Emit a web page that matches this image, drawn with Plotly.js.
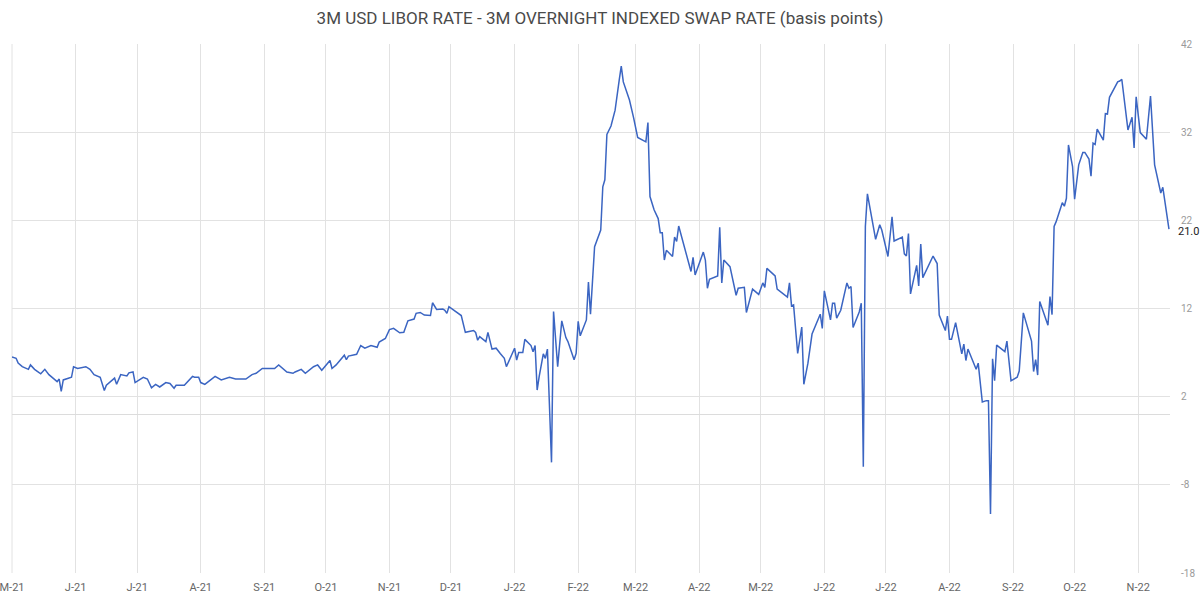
<!DOCTYPE html>
<html>
<head>
<meta charset="utf-8">
<script src="https://cdn.plot.ly/plotly-3.0.1.min.js"></script>
<style>
  html, body { margin: 0; padding: 0; background: #ffffff; }
  #chart { width: 1200px; height: 601px; }
</style>
</head>
<body>
<div id="chart"></div>
<script>
// Observation dates (one line per month)
const dates = [
  '2021-05-01','2021-05-03','2021-05-04','2021-05-06','2021-05-09','2021-05-10','2021-05-12','2021-05-15','2021-05-17','2021-05-19','2021-05-21','2021-05-23','2021-05-24','2021-05-25','2021-05-26','2021-05-30','2021-05-31',
  '2021-06-02','2021-06-06','2021-06-08','2021-06-10','2021-06-13','2021-06-15','2021-06-16','2021-06-19','2021-06-20','2021-06-21','2021-06-23','2021-06-26','2021-06-27','2021-06-29','2021-06-30',
  '2021-07-04','2021-07-06','2021-07-08','2021-07-10','2021-07-12','2021-07-15','2021-07-17','2021-07-19','2021-07-20','2021-07-24','2021-07-28','2021-07-29','2021-07-31',
  '2021-08-01','2021-08-03','2021-08-05','2021-08-08','2021-08-11','2021-08-15','2021-08-18','2021-08-23','2021-08-26','2021-08-28','2021-08-31',
  '2021-09-06','2021-09-08','2021-09-12','2021-09-15','2021-09-16','2021-09-19','2021-09-21','2021-09-25','2021-09-27','2021-09-29',
  '2021-10-01','2021-10-03','2021-10-04','2021-10-06','2021-10-10','2021-10-11','2021-10-12','2021-10-16','2021-10-18','2021-10-20','2021-10-23','2021-10-26','2021-10-27','2021-10-30',
  '2021-11-01','2021-11-03','2021-11-06','2021-11-08','2021-11-10','2021-11-13','2021-11-14','2021-11-16','2021-11-18','2021-11-21','2021-11-22','2021-11-24','2021-11-27','2021-11-28','2021-11-29','2021-11-30',
  '2021-12-06','2021-12-08','2021-12-12','2021-12-13','2021-12-14','2021-12-15','2021-12-18','2021-12-19','2021-12-21','2021-12-23','2021-12-25','2021-12-27','2021-12-28',
  '2022-01-01','2022-01-02','2022-01-03','2022-01-05','2022-01-06','2022-01-09','2022-01-10','2022-01-11','2022-01-12','2022-01-13','2022-01-15','2022-01-16','2022-01-17','2022-01-19','2022-01-20','2022-01-22','2022-01-24','2022-01-26','2022-01-27','2022-01-30','2022-01-31',
  '2022-02-01','2022-02-02','2022-02-05','2022-02-06','2022-02-07','2022-02-09','2022-02-12','2022-02-13','2022-02-14','2022-02-15','2022-02-17','2022-02-19','2022-02-21','2022-02-22','2022-02-23','2022-02-26','2022-02-28',
  '2022-03-02','2022-03-06','2022-03-07','2022-03-08','2022-03-10','2022-03-12','2022-03-13','2022-03-14','2022-03-15','2022-03-16','2022-03-19','2022-03-20','2022-03-21','2022-03-22','2022-03-25','2022-03-28','2022-03-29','2022-03-30',
  '2022-04-03','2022-04-04','2022-04-05','2022-04-06','2022-04-10','2022-04-11','2022-04-12','2022-04-13','2022-04-16','2022-04-19','2022-04-20','2022-04-23','2022-04-24','2022-04-27','2022-04-30',
  '2022-05-02','2022-05-03','2022-05-04','2022-05-08','2022-05-09','2022-05-14','2022-05-15','2022-05-16','2022-05-17','2022-05-19','2022-05-21','2022-05-22','2022-05-24','2022-05-26','2022-05-30','2022-05-31',
  '2022-06-01','2022-06-04','2022-06-05','2022-06-06','2022-06-07','2022-06-09','2022-06-12','2022-06-13','2022-06-14','2022-06-15','2022-06-18','2022-06-19','2022-06-20','2022-06-21','2022-06-22','2022-06-26','2022-06-28','2022-06-29',
  '2022-07-02','2022-07-04','2022-07-05','2022-07-09','2022-07-10','2022-07-11','2022-07-12','2022-07-13','2022-07-16','2022-07-17','2022-07-18','2022-07-19','2022-07-24','2022-07-26','2022-07-27','2022-07-30','2022-07-31',
  '2022-08-01','2022-08-02','2022-08-04','2022-08-07','2022-08-08','2022-08-09','2022-08-10','2022-08-13','2022-08-14','2022-08-15','2022-08-17','2022-08-19','2022-08-20','2022-08-21','2022-08-22','2022-08-23','2022-08-24','2022-08-28','2022-08-29','2022-08-31',
  '2022-09-03','2022-09-04','2022-09-06','2022-09-10','2022-09-11','2022-09-12','2022-09-13','2022-09-14','2022-09-18','2022-09-19','2022-09-20','2022-09-21','2022-09-22','2022-09-25','2022-09-26','2022-09-27','2022-09-28','2022-09-30',
  '2022-10-01','2022-10-03','2022-10-05','2022-10-06','2022-10-08','2022-10-09','2022-10-10','2022-10-11','2022-10-12','2022-10-15','2022-10-16','2022-10-17','2022-10-18','2022-10-22','2022-10-23','2022-10-24','2022-10-27','2022-10-29','2022-10-30','2022-10-31',
  '2022-11-02','2022-11-05','2022-11-07','2022-11-09','2022-11-12','2022-11-13','2022-11-16'
];

// 3M USD LIBOR minus 3M OIS, basis points (same order as dates)
const spreadBp = [
  6.5, 6.35, 5.8, 5.4, 5.1, 5.6, 5.1, 4.6, 5.1, 4.5, 4.1, 3.7, 4.0, 2.6, 3.9, 4.2, 5.4,
  5.2, 5.4, 5.1, 4.5, 4.2, 2.7, 3.3, 3.9, 4.1, 3.4, 4.5, 4.35, 4.7, 4.8, 3.6,
  4.2, 4.0, 3.0, 3.4, 3.1, 3.6, 3.5, 2.95, 3.3, 3.3, 4.3, 4.2, 4.2,
  3.6, 3.4, 3.8, 4.3, 3.9, 4.2, 4.0, 4.0, 4.5, 4.65, 5.2,
  5.2, 5.6, 4.8, 4.65, 4.8, 5.1, 4.65, 5.4, 5.6, 5.0,
  5.6, 6.1, 5.2, 5.6, 6.7, 6.2, 6.6, 6.8, 7.8, 7.5, 7.8, 7.6, 8.2, 8.6,
  9.6, 9.75, 9.25, 9.3, 10.6, 10.8, 11.45, 11.55, 11.25, 11.2, 12.65, 11.9, 11.95, 11.8, 11.45, 12.2,
  11.2, 9.3, 9.5, 9.3, 8.4, 8.8, 8.25, 9.3, 7.4, 7.5, 6.9, 6.35, 5.4,
  7.5, 6.15, 7.0, 7.0, 8.5, 7.8, 7.1, 7.8, 2.75, 4.3, 6.85, 6.35, 7.4, -5.45, 11.65, 5.4, 10.6, 8.7, 8.25, 6.2, 6.9,
  10.55, 8.9, 10.7, 15.0, 11.35, 19.0, 20.9, 25.8, 26.6, 31.75, 32.7, 34.5, 37.9, 39.5, 37.7, 35.65, 33.65,
  31.4, 30.9, 33.1, 24.7, 23.2, 22.2, 20.6, 20.6, 17.5, 18.6, 17.9, 20.1, 19.6, 21.35, 18.9, 16.2, 17.8, 15.8,
  18.4, 17.5, 14.3, 15.3, 15.7, 21.2, 14.9, 17.5, 16.75, 13.5, 14.3, 14.4, 11.55, 14.2, 13.6,
  14.9, 14.4, 16.55, 15.7, 14.2, 13.3, 14.9, 12.3, 12.4, 6.9, 9.9, 3.4, 5.8, 9.1, 11.35, 9.75,
  14.0, 10.7, 12.6, 12.6, 10.9, 11.8, 14.9, 14.3, 14.5, 9.85, 11.6, 12.6, -5.95, 21.3, 25.0, 19.85, 21.5, 20.9,
  17.9, 22.4, 19.65, 20.1, 18.2, 17.95, 20.5, 13.65, 16.9, 14.55, 19.3, 15.5, 17.95, 17.1, 11.25, 9.5, 11.15,
  8.5, 8.5, 10.4, 6.85, 7.95, 6.1, 7.4, 5.6, 5.1, 5.8, 1.4, 1.55, 1.55, -11.3, 6.3, 3.8, 7.85, 7.1, 8.3, 3.8,
  4.2, 4.9, 11.5, 8.3, 4.85, 6.2, 4.45, 12.8, 10.1, 13.35, 11.3, 21.3, 21.85, 24.0, 23.6, 24.5, 30.55, 28.1,
  24.4, 28.3, 29.7, 29.7, 28.95, 27.0, 30.75, 30.6, 32.35, 31.1, 34.1, 34.05, 35.95, 37.7, 37.8, 38.0, 32.25, 33.7, 30.2, 36.0,
  31.95, 31.2, 36.1, 28.3, 25.1, 25.75, 21.0
];

// Month ticks along the time axis
const tickDates = [
  '2021-05-01','2021-06-01','2021-07-01','2021-08-01','2021-09-01','2021-10-01','2021-11-01','2021-12-01',
  '2022-01-01','2022-02-01','2022-03-01','2022-04-01','2022-05-01','2022-06-01','2022-07-01','2022-08-01',
  '2022-09-01','2022-10-01','2022-11-01'
];
const tickLabels = [
  'M-21','J-21','J-21','A-21','S-21','O-21','N-21','D-21',
  'J-22','F-22','M-22','A-22','M-22','J-22','J-22','A-22',
  'S-22','O-22','N-22'
];

// Value axis ticks
const yTicks = [-18, -8, 2, 12, 22, 32, 42];

const lastValue = spreadBp[spreadBp.length - 1];
const gridColor = '#e2e2e2';

const trace = {
  type: 'scatter',
  mode: 'lines',
  x: dates,
  y: spreadBp,
  line: { color: '#3b65c2', width: 1.5 },
  hoverinfo: 'x+y'
};

const layout = {
  width: 1200,
  height: 601,
  paper_bgcolor: '#ffffff',
  plot_bgcolor: '#ffffff',
  margin: { l: 12, r: 30, t: 44, b: 28 },
  showlegend: false,
  font: { family: 'Roboto, "Open Sans", sans-serif', color: '#666' },
  title: {
    text: '3M USD LIBOR RATE - 3M OVERNIGHT INDEXED SWAP RATE (basis points)',
    font: { family: 'Roboto, sans-serif', size: 17, color: '#4a4a4a' },
    x: 0.5, xanchor: 'center',
    y: 1 - 18 / 601, yanchor: 'middle'
  },
  xaxis: {
    type: 'date',
    range: ['2021-05-01', '2022-11-16 12:00'],
    tickmode: 'array',
    tickvals: tickDates,
    ticktext: tickLabels,
    showgrid: true,
    gridcolor: gridColor,
    gridwidth: 1,
    zeroline: false,
    showline: false,
    ticks: '',
    ticklabelstandoff: 6,
    ticklabeloverflow: 'allow',
    tickfont: { size: 11, color: '#666' }
  },
  yaxis: {
    side: 'right',
    range: [-18, 42],
    tickmode: 'array',
    tickvals: yTicks,
    ticktext: yTicks.map(String),
    showgrid: true,
    gridcolor: gridColor,
    gridwidth: 1,
    zeroline: true,
    zerolinecolor: '#dcdcdc',
    zerolinewidth: 1,
    showline: false,
    ticks: '',
    ticklabelstandoff: 10,
    tickfont: { size: 10, color: '#9a9a9a' }
  },
  // left border of the plotting area, drawn like a grid line
  shapes: [{
    type: 'line', xref: 'paper', yref: 'paper',
    x0: 0, x1: 0, y0: 0, y1: 1,
    line: { color: gridColor, width: 1 },
    layer: 'below'
  }],
  annotations: [{
    x: 1, xref: 'paper',
    y: lastValue, yref: 'y',
    xanchor: 'left', yanchor: 'middle',
    xshift: 6, yshift: -2,
    text: lastValue.toFixed(1),
    showarrow: false,
    font: { size: 11, color: '#222' }
  }]
};

Plotly.newPlot('chart', [trace], layout, { displayModeBar: false, staticPlot: true });
</script>
</body>
</html>
